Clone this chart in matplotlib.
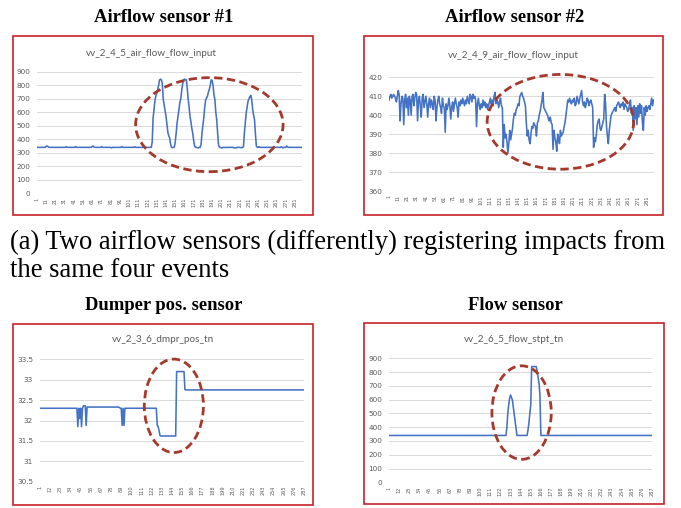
import numpy as np
import matplotlib.pyplot as plt
from matplotlib.patches import Ellipse, Rectangle

# ---- data ----
# airflow sensor #1 (vv_2_4_5_air_flow_flow_input), 288 samples
air1 = [
    340, 340, 340, 340, 340, 340, 340, 340, 340, 340,
    348, 350, 345, 340, 340, 340, 340, 340, 340, 340,
    340, 340, 340, 340, 340, 340, 340, 340, 340, 340,
    340, 340, 345, 340, 340, 340, 340, 340, 340, 340,
    340, 340, 346, 340, 340, 340, 340, 340, 340, 340,
    340, 340, 340, 340, 340, 340, 340, 340, 340, 340,
    348, 350, 342, 340, 340, 340, 340, 340, 340, 340,
    346, 340, 340, 340, 340, 340, 340, 340, 340, 340,
    340, 336, 340, 340, 340, 340, 340, 340, 340, 340,
    340, 340, 346, 340, 340, 340, 340, 340, 340, 340,
    340, 340, 340, 340, 340, 340, 345, 340, 340, 340,
    340, 340, 340, 340, 340, 340, 340, 340, 340, 340,
    340, 340, 340, 340, 340, 380, 560, 620, 690, 720,
    740, 770, 800, 840, 845, 840, 810, 695, 650, 610,
    570, 510, 450, 425, 408, 360, 340, 338, 340, 342,
    380, 445, 520, 570, 620, 670, 700, 760, 810, 835,
    845, 840, 842, 780, 700, 640, 570, 530, 480, 445,
    390, 350, 340, 340, 338, 336, 340, 340, 360, 445,
    500, 560, 640, 690, 705, 720, 750, 770, 800, 840,
    835, 800, 730, 695, 600, 545, 445, 360, 340, 340,
    336, 336, 340, 340, 340, 338, 340, 340, 340, 340,
    340, 340, 340, 340, 336, 336, 336, 340, 340, 340,
    340, 338, 338, 340, 345, 445, 520, 595, 640, 682,
    700, 715, 725, 690, 620, 580, 545, 440, 350, 340,
    340, 345, 340, 340, 340, 340, 340, 340, 340, 340,
    340, 340, 340, 340, 340, 340, 340, 340, 340, 340,
    340, 340, 340, 340, 340, 345, 340, 336, 340, 340,
    340, 350, 342, 340, 340, 340, 340, 340, 340, 340,
    340, 340, 340, 340, 340, 340, 340, 340,
]

# airflow sensor #2 (vv_2_4_9_air_flow_flow_input), 288 samples
air2 = [
    408, 410, 411, 409, 410, 411, 410, 409, 407, 410,
    413, 411, 397, 406, 410, 409, 395, 408, 411, 404,
    409, 400, 410, 408, 400, 410, 411, 405, 409, 412,
    411, 397, 408, 410, 405, 399, 409, 411, 404, 407,
    410, 406, 399, 406, 409, 404, 408, 406, 403, 410,
    408, 397, 404, 408, 410, 406, 404, 401, 409, 405,
    404, 391, 406, 403, 405, 409, 405, 398, 404, 407,
    402, 406, 409, 406, 404, 399, 407, 405, 408, 406,
    409, 407, 405, 408, 406, 410, 408, 406, 411, 410,
    407, 411, 409, 410, 408, 394, 406, 409, 405, 403,
    406, 404, 408, 405, 407, 404, 406, 403, 405, 407,
    409, 406, 408, 405, 410, 412, 406, 409, 407, 404,
    407, 409, 405, 404, 383, 395, 388, 390, 386, 380,
    385, 392, 387, 390, 393, 398, 401, 400, 403, 404,
    406, 405, 410, 411, 412, 410, 409, 407, 405, 396,
    389, 392, 387, 385, 390, 394, 393, 396, 395, 394,
    389, 396, 397, 400, 402, 405, 408, 412, 404, 403,
    402, 401, 400, 398, 397, 399, 396, 395, 382, 392,
    388, 386, 381, 390, 388, 385, 392, 389, 390, 391,
    394, 396, 400, 404, 408, 407, 409, 407, 406, 408,
    407, 409, 405, 406, 410, 408, 406, 409, 411, 413,
    407, 405, 407, 404, 406, 409, 408, 405, 407, 408,
    406, 404, 383, 388, 386, 390, 395, 397, 398, 393,
    392, 394, 396, 398, 411, 406, 394, 389, 385, 392,
    396, 400, 401, 402, 403, 404, 402, 405, 406, 407,
    405, 404, 406, 405, 407, 403, 406, 405, 404, 402,
    403, 406, 408, 401, 404, 392, 405, 398, 404, 395,
    405, 399, 406, 401, 405, 396, 392, 404, 400, 405,
    402, 404, 405, 403, 406, 409, 405, 408,
]

# dumper position (vv_2_3_6_dmpr_pos_tn), 287 samples
dmpr = [
    32.3, 32.3, 32.3, 32.3, 32.3, 32.3, 32.3, 32.3, 32.3, 32.3,
    32.3, 32.3, 32.3, 32.3, 32.3, 32.3, 32.3, 32.3, 32.3, 32.3,
    32.3, 32.3, 32.3, 32.3, 32.3, 32.3, 32.3, 32.3, 32.3, 32.3,
    32.3, 32.3, 32.3, 32.3, 32.3, 32.3, 32.3, 32.3, 32.3, 32.3,
    32.3, 31.85, 32.3, 32.05, 32.3, 31.85, 32.3, 32.36, 32.36, 32.36,
    31.88, 32.33, 32.33, 32.33, 32.33, 32.33, 32.33, 32.33, 32.33, 32.33,
    32.33, 32.33, 32.33, 32.33, 32.33, 32.33, 32.33, 32.33, 32.33, 32.33,
    32.33, 32.33, 32.33, 32.33, 32.33, 32.33, 32.33, 32.33, 32.33, 32.33,
    32.33, 32.33, 32.33, 32.33, 32.33, 32.33, 32.32, 32.3, 32.3, 31.88,
    32.3, 31.88, 32.3, 32.3, 32.3, 32.3, 32.3, 32.3, 32.3, 32.3,
    32.3, 32.3, 32.3, 32.3, 32.3, 32.3, 32.3, 32.3, 32.3, 32.3,
    32.3, 32.3, 32.3, 32.3, 32.3, 32.3, 32.3, 32.3, 32.3, 32.3,
    32.3, 32.3, 32.3, 32.3, 32.3, 32.3, 32.3, 31.88, 31.85, 31.75,
    31.63, 31.62, 31.62, 31.62, 31.62, 31.62, 31.62, 31.62, 31.62, 31.62,
    31.62, 31.62, 31.62, 31.62, 31.62, 31.62, 31.62, 31.62, 33.2, 33.2,
    33.2, 33.2, 33.2, 33.2, 33.2, 33.2, 33.2, 32.76, 32.75, 32.75,
    32.75, 32.75, 32.75, 32.75, 32.75, 32.75, 32.75, 32.75, 32.75, 32.75,
    32.75, 32.75, 32.75, 32.75, 32.75, 32.75, 32.75, 32.75, 32.75, 32.75,
    32.75, 32.75, 32.75, 32.75, 32.75, 32.75, 32.75, 32.75, 32.75, 32.75,
    32.75, 32.75, 32.75, 32.75, 32.75, 32.75, 32.75, 32.75, 32.75, 32.75,
    32.75, 32.75, 32.75, 32.75, 32.75, 32.75, 32.75, 32.75, 32.75, 32.75,
    32.75, 32.75, 32.75, 32.75, 32.75, 32.75, 32.75, 32.75, 32.75, 32.75,
    32.75, 32.75, 32.75, 32.75, 32.75, 32.75, 32.75, 32.75, 32.75, 32.75,
    32.75, 32.75, 32.75, 32.75, 32.75, 32.75, 32.75, 32.75, 32.75, 32.75,
    32.75, 32.75, 32.75, 32.75, 32.75, 32.75, 32.75, 32.75, 32.75, 32.75,
    32.75, 32.75, 32.75, 32.75, 32.75, 32.75, 32.75, 32.75, 32.75, 32.75,
    32.75, 32.75, 32.75, 32.75, 32.75, 32.75, 32.75, 32.75, 32.75, 32.75,
    32.75, 32.75, 32.75, 32.75, 32.75, 32.75, 32.75, 32.75, 32.75, 32.75,
    32.75, 32.75, 32.75, 32.75, 32.75, 32.75, 32.75,
]

# flow setpoint (vv_2_6_5_flow_stpt_tn), 287 samples
flow = [
    340, 340, 340, 340, 340, 340, 340, 340, 340, 340,
    340, 340, 340, 340, 340, 340, 340, 340, 340, 340,
    340, 340, 340, 340, 340, 340, 340, 340, 340, 340,
    340, 340, 340, 340, 340, 340, 340, 340, 340, 340,
    340, 340, 340, 340, 340, 340, 340, 340, 340, 340,
    340, 340, 340, 340, 340, 340, 340, 340, 340, 340,
    340, 340, 340, 340, 340, 340, 340, 340, 340, 340,
    340, 340, 340, 340, 340, 340, 340, 340, 340, 340,
    340, 340, 340, 340, 340, 340, 340, 340, 340, 340,
    340, 340, 340, 340, 340, 340, 340, 340, 340, 340,
    340, 340, 340, 340, 340, 340, 340, 340, 340, 340,
    340, 340, 340, 340, 340, 340, 340, 340, 340, 340,
    340, 340, 340, 340, 340, 340, 340, 340, 400, 500,
    560, 610, 634, 615, 598, 545, 490, 440, 390, 340,
    340, 340, 340, 340, 340, 340, 340, 340, 340, 340,
    340, 380, 430, 500, 561, 840, 840, 840, 840, 840,
    840, 800, 760, 720, 634, 340, 340, 340, 340, 340,
    340, 340, 340, 340, 340, 340, 340, 340, 340, 340,
    340, 340, 340, 340, 340, 340, 340, 340, 340, 340,
    340, 340, 340, 340, 340, 340, 340, 340, 340, 340,
    340, 340, 340, 340, 340, 340, 340, 340, 340, 340,
    340, 340, 340, 340, 340, 340, 340, 340, 340, 340,
    340, 340, 340, 340, 340, 340, 340, 340, 340, 340,
    340, 340, 340, 340, 340, 340, 340, 340, 340, 340,
    340, 340, 340, 340, 340, 340, 340, 340, 340, 340,
    340, 340, 340, 340, 340, 340, 340, 340, 340, 340,
    340, 340, 340, 340, 340, 340, 340, 340, 340, 340,
    340, 340, 340, 340, 340, 340, 340, 340, 340, 340,
    340, 340, 340, 340, 340, 340, 340,
]

titles = ['Airflow sensor #1', 'Airflow sensor #2', 'Dumper pos. sensor', 'Flow sensor']
chart_names = ['vv_2_4_5_air_flow_flow_input', 'vv_2_4_9_air_flow_flow_input',
               'vv_2_3_6_dmpr_pos_tn', 'vv_2_6_5_flow_stpt_tn']
caption = ['(a) Two airflow sensors (differently) registering impacts from',
           'the same four events']

W, H = 681, 508
LINE = '#4472C4'
GRID = '#D9D9D9'
TXT = '#595959'
RED = '#C8202A'
ELL = '#A5392B'

fig = plt.figure(figsize=(W / 100, H / 100), dpi=100)


def px_axes(x0, x1, ytop, ybot):
    return fig.add_axes([x0 / W, 1 - ybot / H, (x1 - x0) / W, (ybot - ytop) / H])


def excel_chart(ax, y, yticks, xstep, name, name_xy, ell):
    x = np.arange(1, len(y) + 1)
    ax.plot(x, y, color=LINE, lw=1.15)
    ax.set_xlim(1, len(y))
    ax.set_ylim(yticks[0], yticks[-1])
    ax.set_yticks(yticks)
    ax.set_yticklabels([('%g' % v) for v in yticks])
    xt = np.arange(1, len(y) + 1, xstep)
    ax.set_xticks(xt)
    ax.set_xticklabels([str(v) for v in xt], rotation=90, fontsize=3.6, color=TXT)
    ax.tick_params(axis='y', length=0, pad=5, labelsize=5.2, labelcolor=TXT)
    ax.tick_params(axis='x', length=0, pad=3)
    ax.grid(axis='y', color=GRID, lw=0.7)
    ax.set_axisbelow(True)
    for s in ax.spines.values():
        s.set_visible(False)
    ax.patch.set_alpha(0)
    fig.text(name_xy[0] / W, 1 - name_xy[1] / H, name, ha='center', va='center',
             fontsize=7.1, color=TXT, family='Lato')
    e = Ellipse(ell[:2], ell[2], ell[3], fill=False, edgecolor=ELL, lw=2.0,
                linestyle=(0, (3, 1.6)), clip_on=False, zorder=5)
    ax.add_patch(e)


# red frames round each chart
for (x0, y0, x1, y1) in [(13, 36, 313, 215), (364, 36, 663, 215),
                         (13, 324, 313, 505), (364, 323, 664, 504)]:
    fig.patches.append(Rectangle((x0 / W, 1 - y1 / H), (x1 - x0) / W, (y1 - y0) / H,
                                 transform=fig.transFigure, fill=False,
                                 edgecolor=RED, lw=1.2))

ax1 = px_axes(37, 301.5, 71.7, 193.3)
excel_chart(ax1, air1, [0, 100, 200, 300, 400, 500, 600, 700, 800, 900], 10,
            chart_names[0], (151, 54), (188, 508, 160, 696))

ax2 = px_axes(389, 653.5, 77.3, 191)
excel_chart(ax2, air2, [360, 370, 380, 390, 400, 410, 420], 10,
            chart_names[1], (513, 55), (187, 396.5, 159, 50))

ax3 = px_axes(40, 304, 359.3, 481.7)
excel_chart(ax3, dmpr, [30.5, 31, 31.5, 32, 32.5, 33, 33.5], 11,
            chart_names[2], (163, 340), (146, 32.36, 64, 2.29))

ax4 = px_axes(389.3, 652, 358.3, 482.3)
excel_chart(ax4, flow, [0, 100, 200, 300, 400, 500, 600, 700, 800, 900], 11,
            chart_names[3], (514, 339), (145, 506, 64.6, 679))

# panel titles and caption
serif = 'Liberation Serif'
for t, (cx, cy) in zip(titles, [(164, 17), (515, 17), (164, 305), (515, 305)]):
    fig.text(cx / W, 1 - cy / H, t, ha='center', va='center', fontsize=13.4,
             fontweight='bold', family=serif)
fig.text(10 / W, 1 - 249 / H, caption[0], ha='left', va='baseline', fontsize=19.2, family=serif)
fig.text(10 / W, 1 - 277 / H, caption[1], ha='left', va='baseline', fontsize=19.2, family=serif)

fig.savefig('out.png', dpi=100)
